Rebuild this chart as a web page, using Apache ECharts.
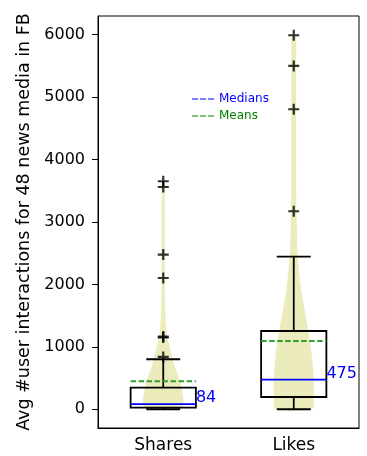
<!DOCTYPE html>
<html>
<head>
<meta charset="utf-8">
<script src="https://cdn.jsdelivr.net/npm/echarts@6/dist/echarts.min.js"></script>
<style>
  html, body { margin: 0; padding: 0; background: #fff; }
  #chart { width: 367px; height: 456px; }
</style>
</head>
<body>
<div id="chart"></div>
<script>
// values
const categories = ['Shares', 'Likes'];
const whiskerLow = [0, 0];
const q1 = [27, 197];
const medians = [84, 475];
const q3 = [348, 1254];
const whiskerHigh = [801, 2446];
const means = [449, 1094];
const sharesOutliers = [3653, 3561, 2478, 2103, 1165, 1150, 838];
const likesOutliers = [5992, 5500, 4806, 3172];
const yTicks = [0, 1000, 2000, 3000, 4000, 5000, 6000];

// violin outline: [value, relative half width]
const sharesViolin = [
  [5, 0.80], [40, 0.95], [140, 1.0], [250, 0.96], [360, 0.9], [465, 0.82],
  [600, 0.66], [790, 0.48], [1000, 0.32], [1160, 0.2], [1400, 0.13],
  [1600, 0.1], [2000, 0.08], [2500, 0.078], [3000, 0.075], [3653, 0.06],
];
const likesViolin = [
  [5, 0.92], [200, 0.98], [420, 1.0], [840, 0.9], [1110, 0.8], [1380, 0.65],
  [1700, 0.48], [1910, 0.37], [2440, 0.2], [2980, 0.15], [3190, 0.13],
  [3510, 0.12], [4500, 0.12], [5500, 0.115], [5992, 0.1],
];
const violins = [sharesViolin, likesViolin];

const chart = echarts.init(document.getElementById('chart'));

function renderViolin(params, api) {
  const idx = api.value(0);
  const profile = violins[idx];
  const band = api.size([1, 0])[0];
  const maxHalf = band * 0.155;
  const left = [];
  const right = [];
  profile.forEach(([v, w]) => {
    const p = api.coord([idx, v]);
    left.push([p[0] - w * maxHalf, p[1]]);
    right.unshift([p[0] + w * maxHalf, p[1]]);
  });
  return {
    type: 'polygon',
    shape: { points: left.concat(right), smooth: 0.25 },
    style: { fill: '#bcbd22', opacity: 0.3 },
  };
}

function renderBox(params, api) {
  const idx = api.value(0);
  const band = api.size([1, 0])[0];
  const half = band * 0.25;
  const cap = band * 0.13;
  const pLow = api.coord([idx, whiskerLow[idx]]);
  const pQ1 = api.coord([idx, q1[idx]]);
  const pMed = api.coord([idx, medians[idx]]);
  const pQ3 = api.coord([idx, q3[idx]]);
  const pHigh = api.coord([idx, whiskerHigh[idx]]);
  const pMean = api.coord([idx, means[idx]]);
  const cx = pQ1[0];
  const black = { stroke: '#000', lineWidth: 1.8 };
  return {
    type: 'group',
    children: [
      { type: 'line', shape: { x1: cx, y1: pQ1[1], x2: cx, y2: pLow[1] }, style: black },
      { type: 'line', shape: { x1: cx, y1: pQ3[1], x2: cx, y2: pHigh[1] }, style: black },
      { type: 'line', shape: { x1: cx - cap, y1: pLow[1], x2: cx + cap, y2: pLow[1] }, style: black },
      { type: 'line', shape: { x1: cx - cap, y1: pHigh[1], x2: cx + cap, y2: pHigh[1] }, style: black },
      {
        type: 'rect',
        shape: { x: cx - half, y: pQ3[1], width: half * 2, height: pQ1[1] - pQ3[1] },
        style: { fill: 'none', stroke: '#000', lineWidth: 1.8 },
      },
      {
        type: 'line',
        shape: { x1: cx - half, y1: pMean[1], x2: cx + half, y2: pMean[1] },
        style: { stroke: '#2ca02c', lineWidth: 1.8, lineDash: [5.5, 2.5] },
      },
      {
        type: 'line',
        shape: { x1: cx - half, y1: pMed[1], x2: cx + half, y2: pMed[1] },
        style: { stroke: '#0000ff', lineWidth: 1.8 },
      },
      {
        type: 'text',
        x: cx + half,
        y: pMed[1] - 6,
        style: {
          text: String(medians[idx]),
          fill: '#0000ff',
          font: '16px "DejaVu Sans"',
          textAlign: 'left',
          textVerticalAlign: 'middle',
        },
      },
    ],
  };
}

const plusSymbol = 'path://M4,0h2v4h4v2h-4v4h-2v-4h-4v-2h4z';

chart.setOption({
  animation: false,
  textStyle: { fontFamily: 'DejaVu Sans' },
  grid: {
    left: 98, right: 8, top: 16, bottom: 28,
    show: true, borderColor: '#000', borderWidth: 1, backgroundColor: 'transparent',
  },
  legend: {
    left: 187,
    top: 88,
    orient: 'vertical',
    itemWidth: 22,
    itemHeight: 2,
    itemGap: 5,
    icon: 'path://M0,0h6v1h-6z M8,0h6v1h-6z M16,0h6v1h-6z',
    textStyle: { fontSize: 12, fontFamily: 'DejaVu Sans' },
    data: [
      { name: 'Medians', textStyle: { color: '#0000ff' } },
      { name: 'Means', textStyle: { color: '#008000' } },
    ],
  },
  xAxis: {
    type: 'category',
    data: categories,
    axisLine: { onZero: false, lineStyle: { color: '#000', width: 1 } },
    axisTick: { alignWithLabel: true, length: 6, lineStyle: { color: '#000' } },
    axisLabel: { color: '#000', fontSize: 17, margin: 9 },
  },
  yAxis: {
    type: 'value',
    min: -300,
    max: 6300,
    name: 'Avg #user interactions for 48 news media in FB',
    nameLocation: 'middle',
    nameGap: 60,
    nameTextStyle: { color: '#000', fontSize: 17.5 },
    axisLine: { show: true, lineStyle: { color: '#000', width: 1 } },
    axisTick: { show: true, length: 6, customValues: yTicks, lineStyle: { color: '#000' } },
    axisLabel: {
      color: '#000', fontSize: 16, margin: 13, customValues: yTicks,
      formatter: (v) => String(v),
    },
    splitLine: { show: false },
  },
  series: [
    {
      type: 'custom',
      renderItem: renderViolin,
      data: [[0], [1]],
      z: 1,
    },
    {
      type: 'custom',
      renderItem: renderBox,
      data: [[0], [1]],
      z: 3,
    },
    {
      type: 'scatter',
      symbol: plusSymbol,
      symbolSize: 11,
      itemStyle: { color: '#000' },
      data: sharesOutliers.map((v) => [0, v])
        .concat(likesOutliers.map((v) => [1, v])),
      z: 4,
    },
    { name: 'Medians', type: 'line', data: [], color: '#0000ff' },
    { name: 'Means', type: 'line', data: [], color: '#008000' },
  ],
});
</script>
</body>
</html>
